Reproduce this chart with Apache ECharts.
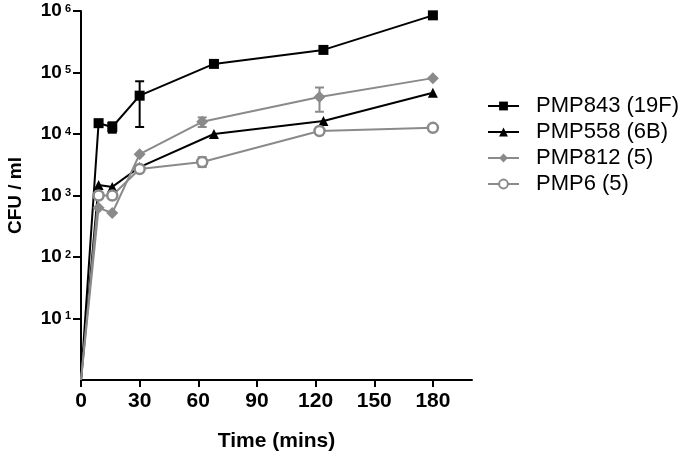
<!DOCTYPE html>
<html>
<head>
<meta charset="utf-8">
<script src="https://cdn.jsdelivr.net/npm/echarts@6/dist/echarts.min.js"></script>
<style>
  html, body { margin: 0; padding: 0; background: #fff; }
  #chart { width: 685px; height: 455px; }
</style>
</head>
<body>
<div id="chart"></div>
<script>
// time points (mins), first point is the inoculum at t=0
const timesBlack = [0, 9, 16, 30, 68, 124, 180];
const timesGrey = [0, 9, 16, 30, 62, 122, 180];

const pmp843 = [1, 15000, 13000, 42000, 138000, 233000, 850000];
const pmp558 = [1, 1480, 1380, 2900, 10000, 16300, 47000];
const pmp812 = [1, 630, 520, 4700, 15800, 40000, 81000];
const pmp6 = [1, 1000, 1000, 2700, 3500, 11200, 12600];

// error bars: [time, low, high]
const err843 = [[16, 10500, 15500], [30, 13000, 72000]];
const err812 = [[62, 13000, 18600], [122, 23000, 57000]];
const err6 = [[62, 2900, 4200]];

const xTicks = [0, 30, 60, 90, 120, 150, 180];
const yTicks = [10, 100, 1000, 10000, 100000, 1000000];

const BLACK = '#000000';
const GREY = '#8a8a8a';
const FONT = 'Liberation Sans';

function pts(times, vals) {
  return times.map((t, i) => i === 0 ? { value: [t, vals[i]], symbol: 'none' } : [t, vals[i]]);
}

function lineSeries(name, times, vals, color, symbol, size, extra) {
  return Object.assign({
    name: name,
    type: 'line',
    data: pts(times, vals),
    symbol: symbol,
    symbolSize: size,
    color: color,
    lineStyle: { color: color, width: 2 },
    itemStyle: { color: color },
    z: 3
  }, extra || {});
}

function errSeries(data, color) {
  return {
    type: 'custom',
    data: data,
    z: 2,
    silent: true,
    renderItem: function (params, api) {
      const lo = api.coord([api.value(0), api.value(1)]);
      const hi = api.coord([api.value(0), api.value(2)]);
      const w = 4.5;
      const st = { stroke: color, lineWidth: 2 };
      return {
        type: 'group',
        children: [
          { type: 'line', shape: { x1: lo[0], y1: lo[1], x2: hi[0], y2: hi[1] }, style: st },
          { type: 'line', shape: { x1: lo[0] - w, y1: lo[1], x2: lo[0] + w, y2: lo[1] }, style: st },
          { type: 'line', shape: { x1: hi[0] - w, y1: hi[1], x2: hi[0] + w, y2: hi[1] }, style: st }
        ]
      };
    }
  };
}

const chart = echarts.init(document.getElementById('chart'));
chart.setOption({
  animation: false,
  textStyle: { fontFamily: FONT },
  grid: { left: 81, right: 213, top: 11, bottom: 75, containLabel: false, outerBoundsMode: 'none' },
  legend: {
    orient: 'vertical',
    left: 487,
    top: 95,
    padding: 0,
    itemWidth: 31,
    itemHeight: 11,
    itemGap: 4,
    textStyle: { fontFamily: FONT, fontSize: 22, color: '#000', lineHeight: 22, padding: [0, 0, 0, 12] },
    data: ['PMP843 (19F)', 'PMP558 (6B)', 'PMP812 (5)', 'PMP6 (5)']
  },
  xAxis: {
    type: 'value',
    min: 0,
    max: 200,
    name: 'Time (mins)',
    nameLocation: 'middle',
    nameGap: 51,
    nameTextStyle: { fontFamily: FONT, fontSize: 21, fontWeight: 'bold', color: '#000' },
    axisLine: { lineStyle: { color: '#000', width: 2 } },
    axisTick: { customValues: xTicks, length: 7, lineStyle: { color: '#000', width: 2 } },
    axisLabel: { customValues: xTicks, fontSize: 21, fontWeight: 'bold', color: '#000', margin: 11 },
    splitLine: { show: false }
  },
  yAxis: {
    type: 'log',
    logBase: 10,
    min: 1,
    max: 1000000,
    name: 'CFU / ml',
    nameLocation: 'middle',
    nameGap: 56,
    nameRotate: 90,
    nameTextStyle: { fontFamily: FONT, fontSize: 19, fontWeight: 'bold', color: '#000' },
    axisLine: { show: true, lineStyle: { color: '#000', width: 2 } },
    axisTick: { customValues: yTicks, length: 8, lineStyle: { color: '#000', width: 2 } },
    axisLabel: {
      customValues: yTicks,
      margin: 10,
      formatter: function (v) {
        return '{b|10}{s|' + Math.round(Math.log10(v)) + '}';
      },
      rich: {
        b: { fontFamily: FONT, fontSize: 19, fontWeight: 'bold', color: '#000', lineHeight: 20 },
        s: { fontFamily: FONT, fontSize: 11, fontWeight: 'bold', color: '#000', lineHeight: 10, verticalAlign: 'top', padding: [2, 0, 0, 3] }
      }
    },
    splitLine: { show: false },
    minorTick: { show: false }
  },
  series: [
    errSeries(err843, BLACK),
    errSeries(err812, GREY),
    errSeries(err6, GREY),
    lineSeries('PMP843 (19F)', timesBlack, pmp843, BLACK, 'rect', 10),
    lineSeries('PMP558 (6B)', timesBlack, pmp558, BLACK, 'triangle', 10),
    lineSeries('PMP812 (5)', timesGrey, pmp812, GREY, 'diamond', 12),
    lineSeries('PMP6 (5)', timesGrey, pmp6, GREY, 'circle', 10, {
      itemStyle: { color: '#fff', borderColor: GREY, borderWidth: 2.5 }
    })
  ]
});
</script>
</body>
</html>
